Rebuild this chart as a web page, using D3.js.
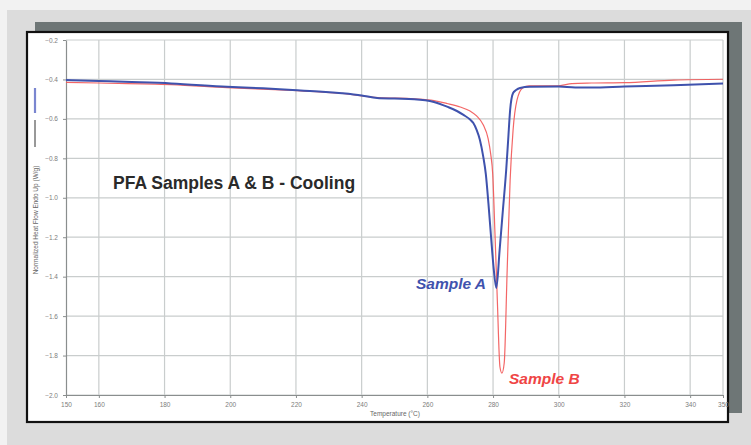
<!DOCTYPE html>
<html>
<head>
<meta charset="utf-8">
<script src="https://cdn.jsdelivr.net/npm/d3@7"></script>
<style>
  html, body { margin: 0; padding: 0; background: #f2f2f2; }
  svg { display: block; }
</style>
</head>
<body>
<svg id="chart" width="751" height="445"></svg>
<script>
// DSC cooling traces for two PFA samples: temperature (°C) vs normalized heat flow (W/g)
const tempA = [150, 160, 170, 182, 199, 210, 219, 228, 234, 240, 244.7, 250, 256, 262, 266, 269, 271, 273, 274, 275, 276, 277, 277.8, 278.6, 279.4, 280.2, 281.0, 282.0, 283.0, 284.0, 284.6, 285.2, 286.1, 287, 288.2, 291.2, 300, 305, 310, 320, 335, 350];
const flowA = [-0.403, -0.408, -0.413, -0.420, -0.437, -0.445, -0.454, -0.462, -0.470, -0.481, -0.494, -0.497, -0.500, -0.514, -0.538, -0.560, -0.580, -0.603, -0.621, -0.656, -0.707, -0.790, -0.880, -1.030, -1.200, -1.360, -1.458, -1.265, -1.062, -0.859, -0.707, -0.555, -0.469, -0.454, -0.443, -0.437, -0.436, -0.441, -0.441, -0.436, -0.430, -0.420];

const tempB = [150, 160, 182, 199, 219, 234, 245, 256, 262, 266, 270, 273, 275, 277, 278.5, 279.3, 279.9, 280.6, 281.3, 282.1, 282.7, 283.4, 284.3, 285.2, 286.1, 287.3, 289, 291, 300, 304, 310, 320, 335, 350];
const flowB = [-0.415, -0.418, -0.426, -0.441, -0.456, -0.471, -0.492, -0.498, -0.507, -0.522, -0.540, -0.560, -0.585, -0.630, -0.700, -0.780, -0.880, -1.189, -1.518, -1.858, -1.889, -1.838, -1.366, -0.910, -0.656, -0.504, -0.443, -0.433, -0.432, -0.421, -0.418, -0.416, -0.403, -0.399];

const xTicks = [150, 160, 180, 200, 220, 240, 260, 280, 300, 320, 340, 350];
const yTicks = [-0.2, -0.4, -0.6, -0.8, -1.0, -1.2, -1.4, -1.6, -1.8, -2.0];

const chartTitle = "PFA Samples A & B - Cooling";
const xTitle = "Temperature (°C)";
const yTitle = "Normalized Heat Flow Endo Up (W/g)";
const labelA = "Sample A";
const labelB = "Sample B";

const colorA = "#3f52ad";
const colorB = "#f25555";

const svg = d3.select("#chart");

// page frame: grey panel, drop shadow, bordered white card
svg.append("rect").attr("x", 7).attr("y", 10).attr("width", 744).attr("height", 435).attr("fill", "#dcdcdc");
svg.append("rect").attr("x", 35).attr("y", 22).attr("width", 707).attr("height", 391).attr("fill", "#6e7676");
svg.append("rect").attr("x", 27).attr("y", 32).attr("width", 701).attr("height", 390)
  .attr("fill", "#ffffff").attr("stroke", "#111").attr("stroke-width", 2.2);

const x = d3.scaleLinear().domain([150, 350]).range([66, 723]);
const y = d3.scaleLinear().domain([-0.2, -2.0]).range([40, 395]);

// grid
const grid = svg.append("g");
grid.selectAll("line.v").data(xTicks.filter(t => t !== 150)).join("line")
  .attr("x1", d => x(d)).attr("x2", d => x(d)).attr("y1", y(-0.2)).attr("y2", y(-2.0))
  .attr("stroke", "#c9cdcd").attr("stroke-width", 1.2);
grid.selectAll("line.h").data(yTicks).join("line")
  .attr("x1", x(150)).attr("x2", x(350)).attr("y1", d => y(d)).attr("y2", d => y(d))
  .attr("stroke", "#c9cdcd").attr("stroke-width", 1.2);

// axes
const axisStyle = g => {
  g.select(".domain").attr("stroke", "#8a8e8e").attr("stroke-width", 1.2);
  g.selectAll(".tick line").attr("stroke", "#8a8e8e");
  g.selectAll(".tick text").attr("fill", "#7d7d7d").attr("font-size", "6.5px")
    .attr("font-family", "Liberation Sans, Arial, sans-serif");
};
svg.append("g").attr("transform", `translate(0,${y(-2.0)})`)
  .call(d3.axisBottom(x).tickValues(xTicks).tickSize(3).tickSizeOuter(0).tickPadding(4).tickFormat(d3.format("d")))
  .call(axisStyle);
svg.append("g").attr("transform", `translate(${x(150)},0)`)
  .call(d3.axisLeft(y).tickValues(yTicks).tickSize(3).tickSizeOuter(0).tickPadding(5).tickFormat(d3.format(".1f")))
  .call(axisStyle);

// axis titles
svg.append("text").attr("x", 395).attr("y", 416).attr("text-anchor", "middle")
  .attr("font-family", "Liberation Sans, Arial, sans-serif").attr("font-size", "6.5px").attr("fill", "#666")
  .text(xTitle);
svg.append("line").attr("x1", 35).attr("x2", 35).attr("y1", 88).attr("y2", 113)
  .attr("stroke", "#7a86d0").attr("stroke-width", 2.2);
svg.append("line").attr("x1", 35).attr("x2", 35).attr("y1", 120).attr("y2", 147)
  .attr("stroke", "#333").attr("stroke-width", 1);
svg.append("text").attr("transform", "translate(37.5,220) rotate(-90)").attr("text-anchor", "middle")
  .attr("font-family", "Liberation Sans, Arial, sans-serif").attr("font-size", "6.5px").attr("fill", "#666")
  .text(yTitle);

// traces
const line = d3.line().x(d => x(d[0])).y(d => y(d[1])).curve(d3.curveMonotoneX);
svg.append("path").datum(d3.zip(tempB, flowB)).attr("d", line)
  .attr("fill", "none").attr("stroke", colorB).attr("stroke-width", 1.2).attr("stroke-opacity", 0.9);
svg.append("path").datum(d3.zip(tempA, flowA)).attr("d", line)
  .attr("fill", "none").attr("stroke", colorA).attr("stroke-width", 2).attr("stroke-linejoin", "round");

// annotations
svg.append("text").attr("x", 113).attr("y", 189)
  .attr("font-family", "Liberation Sans, Arial, sans-serif").attr("font-weight", "bold").attr("font-size", "17.5px")
  .attr("fill", "#2a2a2a").text(chartTitle);
svg.append("text").attr("x", 486).attr("y", 289).attr("text-anchor", "end")
  .attr("font-family", "Liberation Sans, Arial, sans-serif").attr("font-weight", "bold").attr("font-style", "italic")
  .attr("font-size", "15.5px").attr("fill", colorA).text(labelA);
svg.append("text").attr("x", 509).attr("y", 384)
  .attr("font-family", "Liberation Sans, Arial, sans-serif").attr("font-weight", "bold").attr("font-style", "italic")
  .attr("font-size", "15.5px").attr("fill", "#ef4545").text(labelB);
</script>
</body>
</html>
